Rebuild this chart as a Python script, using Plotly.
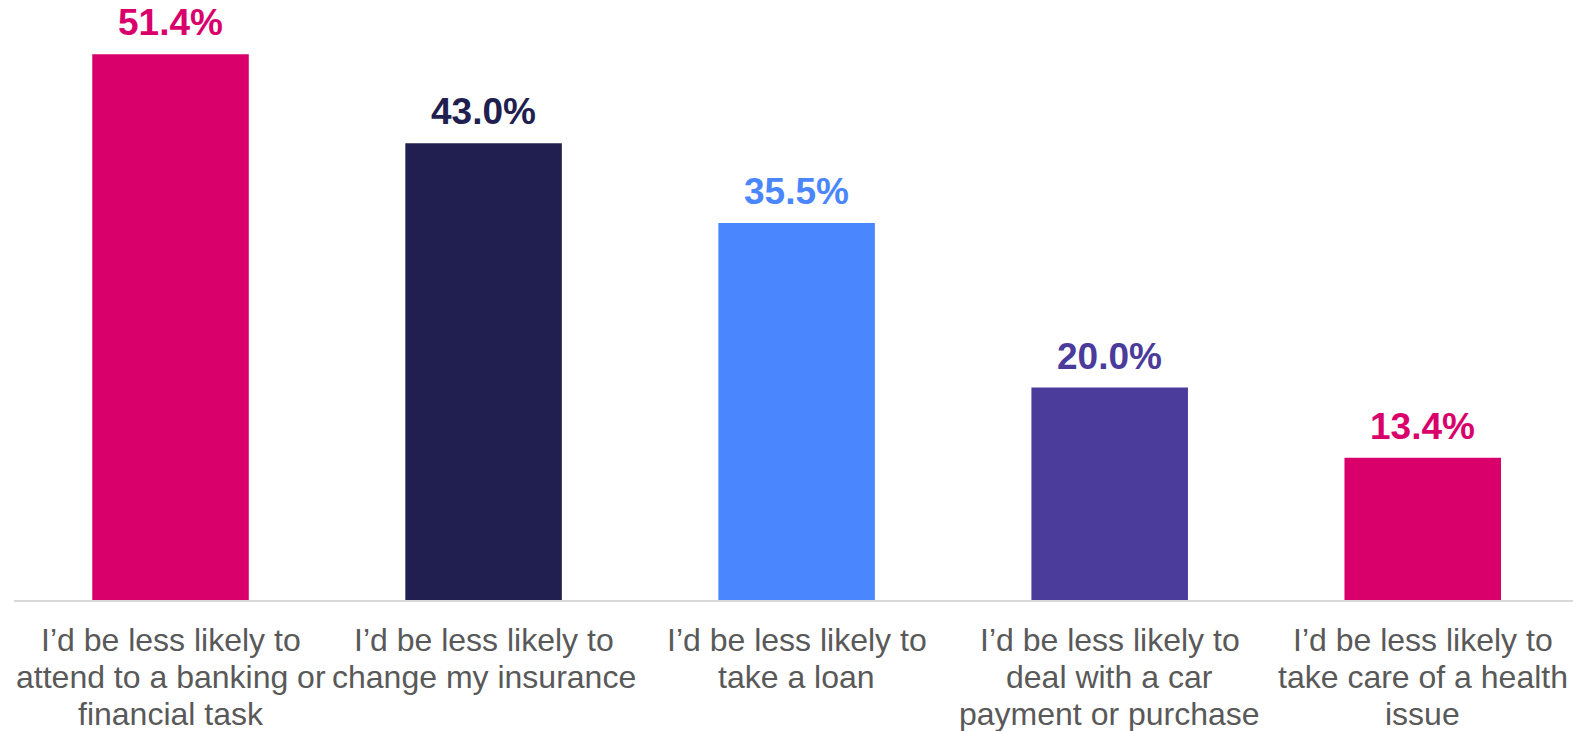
import plotly.graph_objects as go

# Survey responses: share of respondents per statement
categories = [
    "I’d be less likely to<br>attend to a banking or<br>financial task",
    "I’d be less likely to<br>change my insurance",
    "I’d be less likely to<br>take a loan",
    "I’d be less likely to<br>deal with a car<br>payment or purchase",
    "I’d be less likely to<br>take care of a health<br>issue",
]
values = [51.4, 43.0, 35.5, 20.0, 13.4]
bar_colors = ["#D9006C", "#211F50", "#4A86FE", "#4B3B9B", "#D9006C"]

LABEL_FONT = "Liberation Sans, Arial, sans-serif"
x_pos = list(range(len(categories)))

fig = go.Figure(
    go.Bar(
        x=x_pos,
        y=values,
        width=0.5,
        marker=dict(color=bar_colors, line=dict(width=0)),
        hoverinfo="skip",
    )
)

annotations = []
# value labels above each bar
for xi, v, c in zip(x_pos, values, bar_colors):
    annotations.append(dict(
        x=xi, y=v, xref="x", yref="y",
        text=f"<b>{v:.1f}%</b>", showarrow=False,
        yanchor="bottom", yshift=9,
        font=dict(family=LABEL_FONT, size=37, color=c),
    ))

# category labels below the axis, one annotation per line for tight spacing
line_gap = 37
for xi, cat in zip(x_pos, categories):
    for i, line in enumerate(cat.split("<br>")):
        annotations.append(dict(
            x=xi, y=0, xref="x", yref="paper",
            text=line, showarrow=False,
            yanchor="middle", yshift=-(40 + line_gap * i),
            font=dict(family=LABEL_FONT, size=32, color="#595959"),
        ))

fig.update_layout(
    width=1573, height=731,
    margin=dict(l=14, r=0, t=0, b=131),
    paper_bgcolor="white", plot_bgcolor="white",
    showlegend=False,
    bargap=0.5,
    annotations=annotations,
    xaxis=dict(
        range=[-0.5, 4.48],
        showticklabels=False, showgrid=False, zeroline=False,
        showline=True, linecolor="#D9D9D9", linewidth=2,
        ticks="", fixedrange=True,
    ),
    yaxis=dict(
        range=[0, 56.5],
        visible=False, showgrid=False, zeroline=False,
        fixedrange=True,
    ),
)

fig.write_html("out.html", config={"displayModeBar": False})
